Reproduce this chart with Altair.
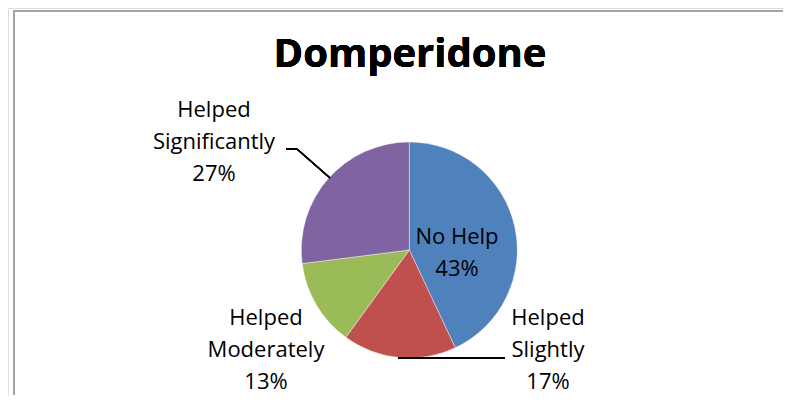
import altair as alt
import pandas as pd

TITLE = "Domperidone"
categories = ["No Help", "Helped Slightly", "Helped Moderately", "Helped Significantly"]
values = [43, 17, 13, 27]
label_lines = [["No Help"], ["Helped", "Slightly"], ["Helped", "Moderately"], ["Helped", "Significantly"]]
colors = ["#4F81BD", "#C0504D", "#9BBB59", "#8064A2"]

total = sum(values)
df = pd.DataFrame({
    "category": categories,
    "value": values,
    "order": list(range(len(categories))),
    "label": ["\n".join(l + [f"{round(v / total * 100)}%"]) for l, v in zip(label_lines, values)],
})

CX, CY, R = 401.3, 242, 108
FONT = "Open Sans"

base = alt.Chart(df)

pie = base.mark_arc(outerRadius=R, stroke="white", strokeWidth=0.4).encode(
    theta=alt.Theta("value:Q", stack=True),
    order=alt.Order("order:Q"),
    color=alt.Color("category:N", scale=alt.Scale(domain=categories, range=colors), legend=None),
    x=alt.value(CX),
    y=alt.value(CY),
)

label_pos = {
    "No Help": (449, 229),
    "Helped Slightly": (540, 310),
    "Helped Moderately": (258, 310),
    "Helped Significantly": (206, 102),
}

labels = [
    base.transform_filter(alt.datum.category == c)
    .mark_text(font=FONT, fontSize=22, lineBreak="\n", lineHeight=32, align="center", baseline="middle", color="black")
    .encode(text="label:N", x=alt.value(px), y=alt.value(py))
    for c, (px, py) in label_pos.items()
]

def seg(x1, y1, x2, y2, color="black", w=1.5):
    return alt.Chart(df).mark_rule(color=color, strokeWidth=w).encode(
        x=alt.value(x1), y=alt.value(y1), x2=alt.value(x2), y2=alt.value(y2)
    )

leaders = [
    seg(278, 141, 289, 141),
    seg(289, 141, 322, 170),
    seg(390, 350, 497, 350),
]

frame = [
    seg(5, 3, 790, 3, color="#a3a3a3", w=2),
    seg(6, 2, 6, 400, color="#a3a3a3", w=2),
]

title = alt.Chart(df).mark_text(
    text=TITLE, font=FONT, fontSize=40, fontWeight="bold", align="center", baseline="alphabetic", color="black"
).encode(x=alt.value(402), y=alt.value(59))

chart = alt.layer(*frame, pie, *labels, *leaders, title).properties(
    width=775, height=387, autosize=alt.AutoSizeParams(type="none"), padding=0
).configure_view(stroke=None).configure(background="white")

chart.save("out.html", embed_options={"renderer": "svg", "actions": False})
